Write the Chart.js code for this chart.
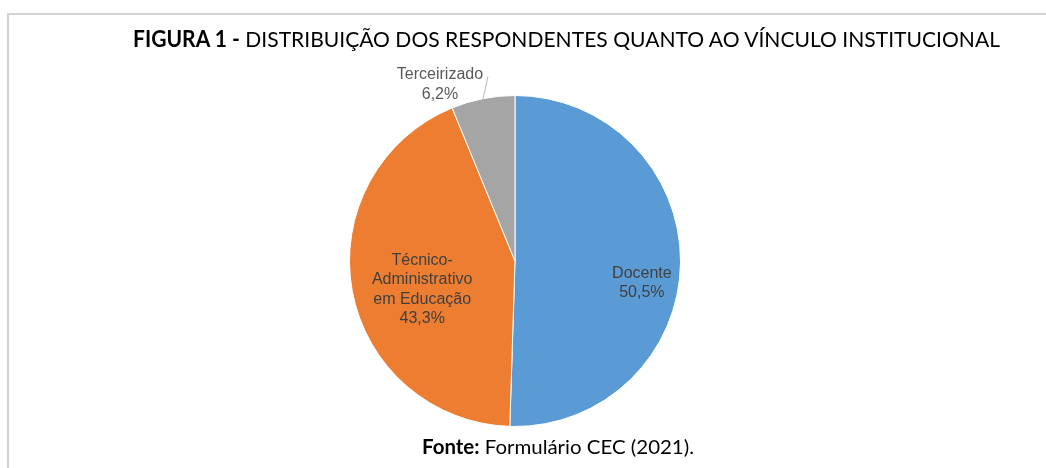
<!DOCTYPE html>
<html>
<head>
<meta charset="utf-8">
<script src="https://cdn.jsdelivr.net/npm/chart.js@4.4.1/dist/chart.umd.min.js"></script>
<style>
  html, body { margin: 0; padding: 0; background: #ffffff; width: 1046px; height: 468px; overflow: hidden; }
  #wrap { position: relative; width: 1046px; height: 468px; }
  canvas { position: absolute; left: 0; top: 0; }
  .hline { position: absolute; left: 7px; top: 13px; width: 1039px; height: 2px; background: #d3d3d3; }
  .vline { position: absolute; left: 7px; top: 13px; width: 2px; height: 455px; background: #d3d3d3; }
  .txt { position: absolute; white-space: nowrap; font-family: Lato, "Open Sans", "Liberation Sans", sans-serif; color: #000; transform-origin: 0 0; }
  #title { font-size: 22px; line-height: 26px; }
  #source { font-size: 20px; line-height: 24px; }
  .txt b { font-weight: 700; }
</style>
</head>
<body>
<div id="wrap">
  <canvas id="c" width="1046" height="468"></canvas>
  <div class="hline"></div>
  <div class="vline"></div>
  <div id="title" class="txt"><b>FIGURA 1 -</b> DISTRIBUIÇÃO DOS RESPONDENTES QUANTO AO VÍNCULO INSTITUCIONAL</div>
  <div id="source" class="txt"><b>Fonte:</b> Formulário CEC (2021).</div>
</div>
<script>
// ---- data ----
const categories = ['Docente', 'Técnico-Administrativo em Educação', 'Terceirizado'];
const values = [50.5, 43.3, 6.2];
const labelLines = [['Docente'], ['Técnico-', 'Administrativo', 'em Educação'], ['Terceirizado']];
const sliceColors = ['#5B9BD5', '#ED7D31', '#A5A5A5'];

// ---- label placement (style, not data) ----
const labelPlacement = [
  { mode: 'inside', frac: 0.785, dx: -3, dy: 20 },
  { mode: 'inside', frac: 0.57, dx: 0, dy: 12 },
  { mode: 'outside', dx: -43, dy: -14, lineDx: 5, lineDy: -22 }
];

function fmtPct(v) { return v.toFixed(1).replace('.', ',') + '%'; }

const dataLabelPlugin = {
  id: 'dataLabels',
  afterDatasetsDraw(chart) {
    const ctx = chart.ctx;
    const meta = chart.getDatasetMeta(0);
    ctx.save();
    ctx.font = '16px "Liberation Sans", Arial, sans-serif';
    ctx.textAlign = 'center';
    ctx.textBaseline = 'middle';
    const lh = 19.5;
    meta.data.forEach((arc, i) => {
      const p = arc.getProps(['x', 'y', 'startAngle', 'endAngle', 'outerRadius'], true);
      const mid = (p.startAngle + p.endAngle) / 2;
      const cs = Math.cos(mid), sn = Math.sin(mid);
      const pl = labelPlacement[i];
      const lines = labelLines[i].concat([fmtPct(values[i])]);
      let cx, cy;
      if (pl.mode === 'inside') {
        cx = p.x + cs * p.outerRadius * pl.frac + pl.dx;
        cy = p.y + sn * p.outerRadius * pl.frac + pl.dy;
        ctx.fillStyle = '#404040';
      } else {
        const ex = p.x + cs * p.outerRadius, ey = p.y + sn * p.outerRadius;
        ctx.strokeStyle = '#b8b8b8';
        ctx.lineWidth = 1;
        ctx.beginPath();
        ctx.moveTo(ex, ey);
        ctx.lineTo(ex + pl.lineDx, ey + pl.lineDy);
        ctx.stroke();
        cx = ex + pl.dx;
        cy = ey + pl.dy;
        ctx.fillStyle = '#595959';
      }
      const top = cy - (lines.length - 1) * lh / 2;
      lines.forEach((t, k) => ctx.fillText(t, cx, top + k * lh));
    });
    ctx.restore();
  }
};

new Chart(document.getElementById('c'), {
  type: 'pie',
  data: {
    labels: categories,
    datasets: [{
      data: values,
      backgroundColor: sliceColors,
      borderColor: '#ffffff',
      borderWidth: 1
    }]
  },
  options: {
    responsive: false,
    animation: false,
    layout: { padding: { top: 95, bottom: 41, left: 0, right: 16 } },
    plugins: { legend: { display: false }, tooltip: { enabled: false } }
  },
  plugins: [dataLabelPlugin]
});

// ---- fit the HTML captions to the reference widths ----
function place(id, left, baseline, targetWidth, size) {
  const el = document.getElementById(id);
  const w = el.getBoundingClientRect().width;
  const lhPx = parseFloat(getComputedStyle(el).lineHeight);
  const top = baseline - (lhPx / 2 + size * 0.387);
  el.style.left = left + 'px';
  el.style.top = top + 'px';
  el.style.transform = 'scaleX(' + (targetWidth / w) + ')';
}
place('title', 133, 48, 867, 22);
place('source', 422, 454, 272, 20);
</script>
</body>
</html>
